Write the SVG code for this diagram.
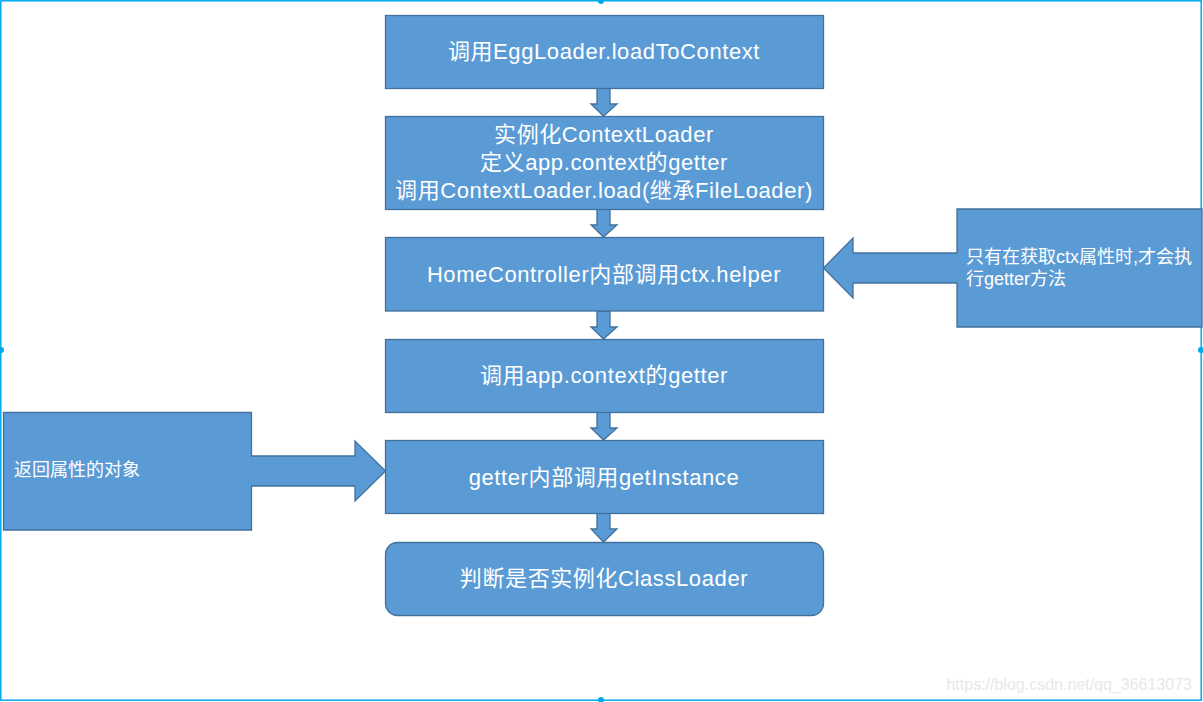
<svg xmlns="http://www.w3.org/2000/svg" width="1203" height="702" viewBox="0 0 1203 702">
<style>
.box{fill:#5b9bd5;stroke:#41719c;stroke-width:1.3}
.arr{fill:#5b9bd5;stroke:#41719c;stroke-width:1.3;stroke-linejoin:miter}
.t{fill:#ffffff;font-family:"Liberation Sans","Noto Sans CJK SC",sans-serif;font-size:22px;letter-spacing:0.6px;text-anchor:middle}
.s{fill:#ffffff;font-family:"Liberation Sans","Noto Sans CJK SC",sans-serif;font-size:18px}
.frame{fill:none;stroke:#00a8f0;stroke-width:1.5}
.h{fill:#00a8f0}
</style>
<rect width="1203" height="702" fill="#ffffff"/>
<g id="frame">
<rect class="frame" x="0.8" y="0.8" width="1200.4" height="699.4"/>
<circle class="h" cx="1" cy="350" r="3"/>
<circle class="h" cx="1201" cy="350" r="3"/>
<circle class="h" cx="601" cy="1" r="3"/>
<circle class="h" cx="601" cy="700" r="3"/>
</g>
<g id="connectors">
<polygon class="arr" points="597,88 610,88 610,104 617,104 603.5,116 591,104 597,104"/>
<polygon class="arr" points="597,209 610,209 610,225 617,225 603.5,237 591,225 597,225"/>
<polygon class="arr" points="597,311 610,311 610,327 617,327 603.5,339 591,327 597,327"/>
<polygon class="arr" points="597,412 610,412 610,428 617,428 603.5,440 591,428 597,428"/>
<polygon class="arr" points="597,513 610,513 610,529 617,529 603.5,542 591,529 597,529"/>
</g>
<g id="n1">
<rect class="box" x="385.5" y="15.5" width="438" height="73"/>
<text class="t" x="604" y="59">调用EggLoader.loadToContext</text>
</g>
<g id="n2">
<rect class="box" x="385.5" y="116.5" width="438" height="93"/>
<text class="t" x="604" y="142">实例化ContextLoader</text>
<text class="t" x="604" y="170">定义app.context的getter</text>
<text class="t" x="604" y="198">调用ContextLoader.load(继承FileLoader)</text>
</g>
<g id="n3">
<rect class="box" x="385.5" y="237.5" width="438" height="73.5"/>
<text class="t" x="604" y="282">HomeController内部调用ctx.helper</text>
</g>
<g id="n4">
<rect class="box" x="385.5" y="339.5" width="438" height="73"/>
<text class="t" x="604" y="383">调用app.context的getter</text>
</g>
<g id="n5">
<rect class="box" x="385.5" y="440.5" width="438" height="73"/>
<text class="t" x="604" y="485">getter内部调用getInstance</text>
</g>
<g id="n6">
<rect class="box" x="385.5" y="542.5" width="438" height="73" rx="12" ry="12"/>
<text class="t" x="604" y="586">判断是否实例化ClassLoader</text>
</g>
<g id="callout-right">
<polygon class="box" points="1202,209 957,209 957,253 853,253 853,238 823.5,268 853,298 853,283 957,283 957,327 1202,327"/>
<text class="s" x="966" y="263">只有在获取ctx属性时,才会执</text>
<text class="s" x="966" y="285">行getter方法</text>
</g>
<g id="callout-left">
<polygon class="box" points="3.5,412.5 251.5,412.5 251.5,456 355,456 355,441 385.5,471 355,501 355,486 251.5,486 251.5,530 3.5,530"/>
<text class="s" x="14" y="476">返回属性的对象</text>
</g>
<text x="1192" y="690" font-family="Liberation Sans,sans-serif" font-size="16" fill="#e8e8e8" text-anchor="end">https://blog.csdn.net/qq_36613073</text>
</svg>
